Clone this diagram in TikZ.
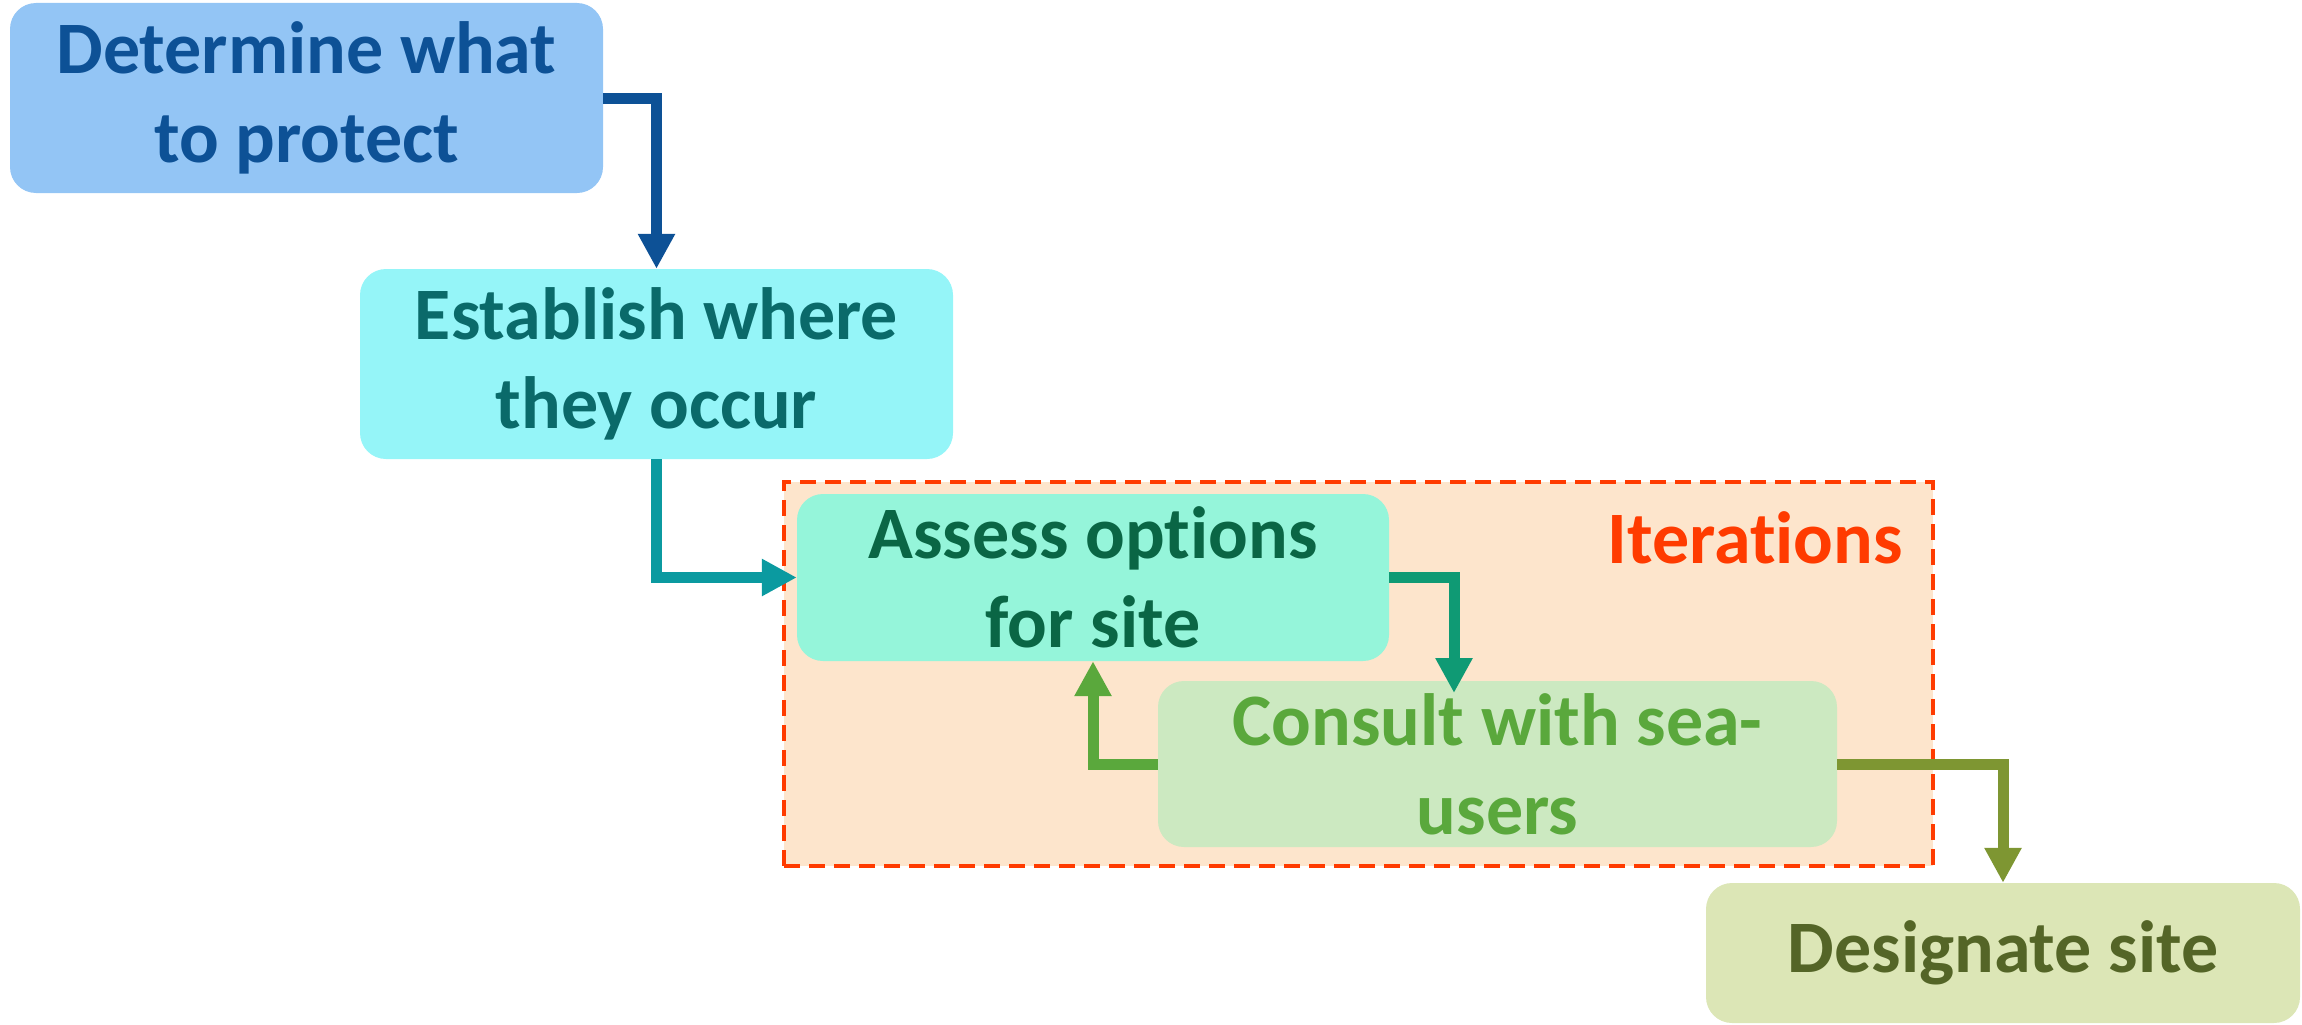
\documentclass[tikz,border=0pt]{standalone}
\usepackage{fontspec}
\setmainfont[Ligatures=NoCommon]{Carlito}
\usetikzlibrary{arrows.meta}
\definecolor{b1fill}{HTML}{93C5F5}\definecolor{b1text}{HTML}{0D5196}
\definecolor{b2fill}{HTML}{95F5F8}\definecolor{b2text}{HTML}{0A6A6A}\definecolor{a2col}{HTML}{0B9AA0}
\definecolor{b3fill}{HTML}{95F5DA}\definecolor{b3text}{HTML}{0A6645}\definecolor{a3col}{HTML}{0F9A74}
\definecolor{b4fill}{HTML}{CCE9C1}\definecolor{b4text}{HTML}{5AA83C}
\definecolor{b5fill}{HTML}{DCE6B6}\definecolor{b5text}{HTML}{546527}\definecolor{a5col}{HTML}{7E9632}
\definecolor{itfill}{HTML}{FDE5CC}\definecolor{itcol}{HTML}{FF3B00}
\tikzset{
  stepbox/.style={rectangle, rounded corners=26pt, inner sep=0pt, align=center,
    font=\fontsize{74}{89}\selectfont\bfseries},
  flow/.style={line width=11pt, -{Triangle[width=35pt,length=35pt]}},
}
\begin{document}
\begin{tikzpicture}[x=1pt,y=-1pt]
\useasboundingbox (0,0) rectangle (2302,1025);
% iterations region
\node[draw=itcol, fill=itfill, dash pattern=on 16pt off 9pt, line width=4pt,
  minimum width=1149pt, minimum height=384pt, inner sep=0pt] (iter) at (1358.5,674) {};
\node[anchor=base east, text=itcol, font=\fontsize{74}{89}\selectfont\bfseries, inner sep=0pt] (itlabel) at (1903,563) {Iterations};
% boxes
\node[stepbox, fill=b1fill, text=b1text, minimum width=593pt, minimum height=190pt] (b1) at (306.5,98) {Determine what\\to protect};
\node[stepbox, fill=b2fill, text=b2text, minimum width=593pt, minimum height=190pt] (b2) at (656.5,364) {Establish where\\they occur};
\node[stepbox, fill=b3fill, text=b3text, minimum width=592pt, minimum height=167pt] (b3) at (1093,577.5) {Assess options\\for site};
\node[stepbox, fill=b4fill, text=b4text, minimum width=679pt, minimum height=166pt] (b4) at (1497.5,764) {Consult with sea-\\users};
\node[stepbox, fill=b5fill, text=b5text, minimum width=594pt, minimum height=140pt] (b5) at (2003,953) {Designate site};
% connectors
\coordinate (c3) at (1454,693);
\draw[flow, draw=b1text] (b1.east) -| (b2.north);
\draw[flow, draw=a2col] (b2.south) |- (b3.west);
\draw[flow, draw=a3col] (b3.east) -| (c3);
\draw[flow, draw=b4text] (b4.west) -| (b3.south);
\draw[flow, draw=a5col] (b4.east) -| (b5.north);
\end{tikzpicture}
\end{document}
